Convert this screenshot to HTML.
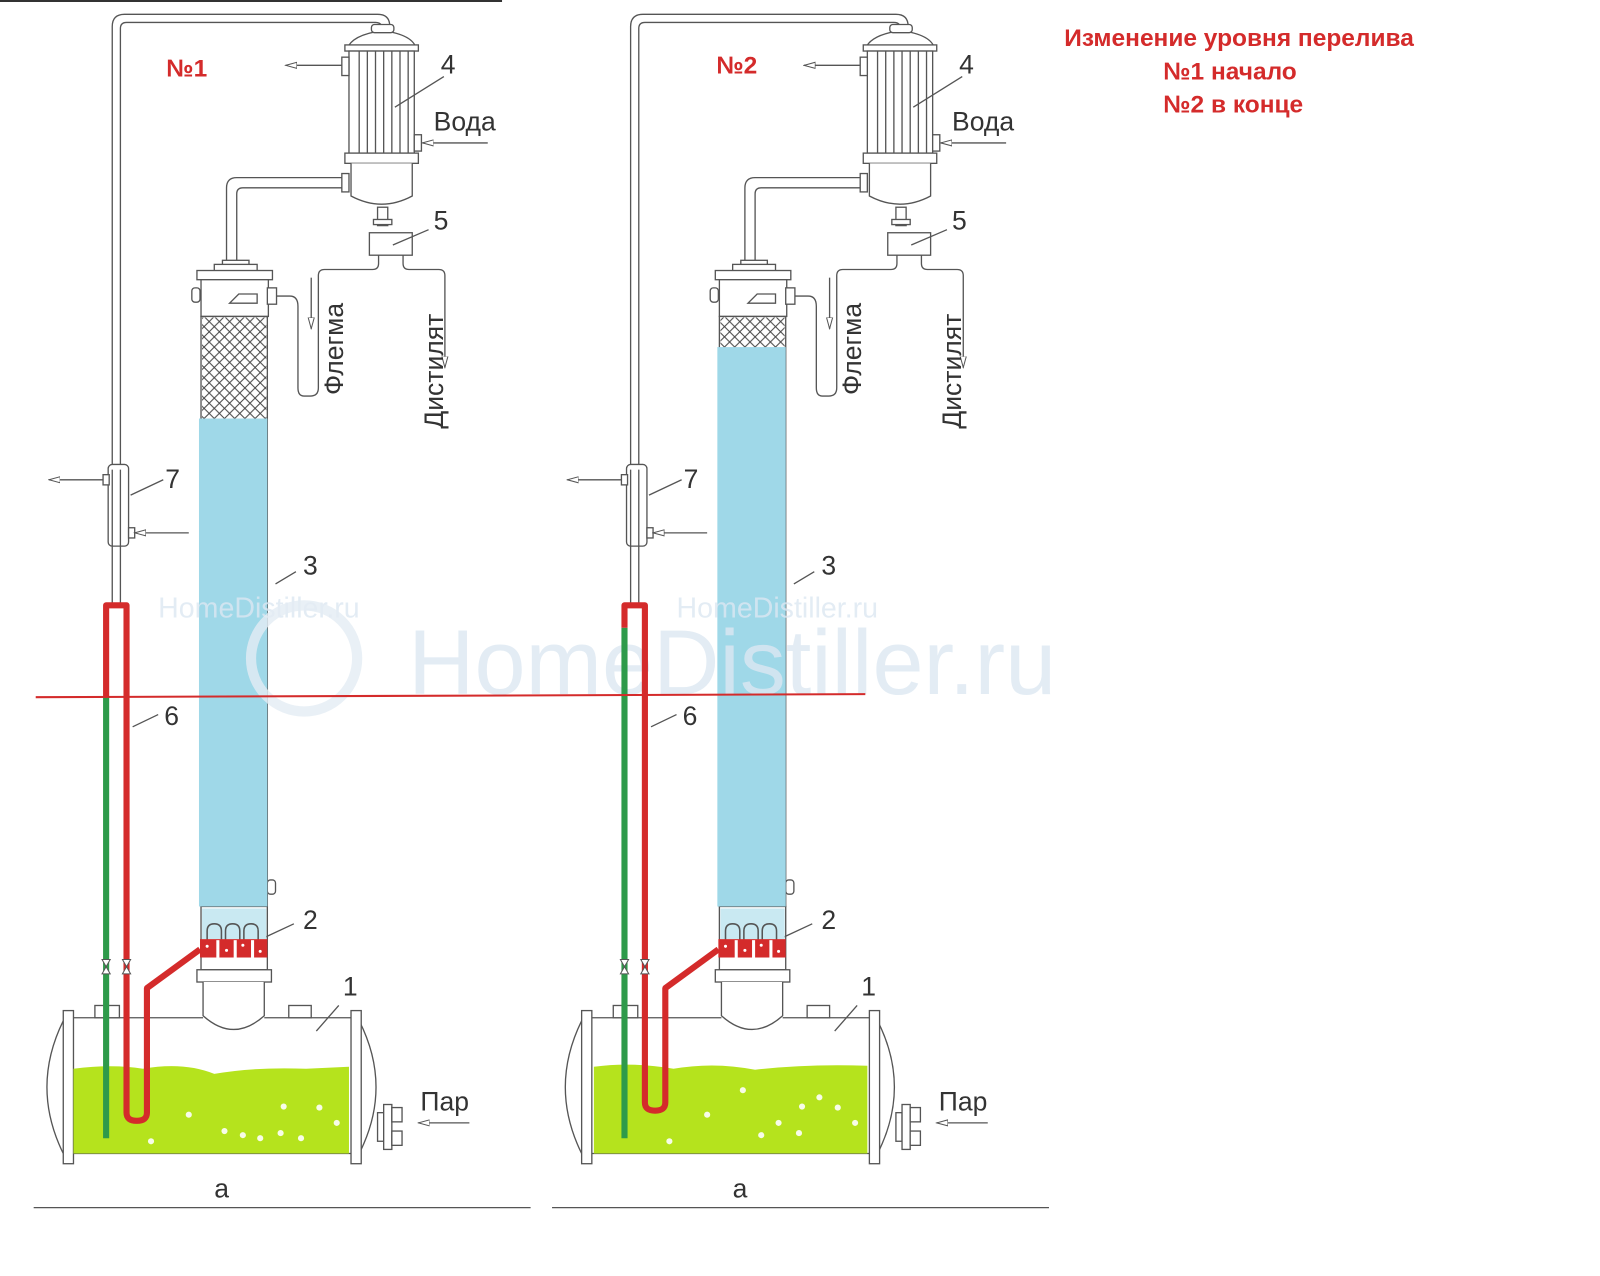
<!DOCTYPE html>
<html><head><meta charset="utf-8"><style>
html,body{margin:0;padding:0;background:#fff}
svg{display:block}
text{font-family:"Liberation Sans","DejaVu Sans",sans-serif}
</style></head><body>
<svg width="1600" height="1276" viewBox="0 0 1568 1250" preserveAspectRatio="none" xmlns="http://www.w3.org/2000/svg">
<defs>
<pattern id="hatch" width="10" height="10" patternUnits="userSpaceOnUse">
<path d="M0 0L10 10M10 0L0 10" stroke="#444" stroke-width="1"/>
</pattern>
<marker id="ar" markerWidth="12" markerHeight="8" refX="11" refY="4" orient="auto" markerUnits="userSpaceOnUse">
<path d="M0 1L11 4L0 7Z" fill="#fff" stroke="#555" stroke-width="1"/>
</marker>
<g id="base" fill="none" stroke="#555" stroke-width="1.3">
  <path d="M110 460V26Q110 14 122 14H370Q382 14 382 26V30"/>
  <path d="M118 460V28Q118 22 124 22H368Q375 22 375 30"/>
  <path d="M110 535V592M118 535V592"/>
  <path d="M340 48Q345 34 375 30Q405 34 408 48Z" fill="#fff"/>
  <rect x="364" y="24" width="22" height="8" rx="3" fill="#fff"/>
  <rect x="338" y="44" width="72" height="6" fill="#fff"/>
  <rect x="342" y="50" width="64" height="100" fill="#fff"/>
  <path d="M352 50V150M360 50V150M368 50V150M376 50V150M384 50V150M392 50V150M400 50V150"/>
  <rect x="338" y="150" width="72" height="10" fill="#fff"/>
  <path d="M344 160V192Q374 208 404 192V160" fill="#fff"/>
  <rect x="335" y="56" width="7" height="18" fill="#fff"/>
  <line x1="335" y1="64" x2="280" y2="64" marker-end="url(#ar)"/>
  <rect x="406" y="132" width="7" height="16" fill="#fff"/>
  <line x1="478" y1="140" x2="414" y2="140" marker-end="url(#ar)"/>
  <rect x="335" y="170" width="7" height="18" fill="#fff"/>
  <rect x="370" y="203" width="10" height="18" fill="#fff"/>
  <rect x="366" y="215" width="18" height="5" fill="#fff"/>
  <rect x="362" y="228" width="42" height="22" fill="#fff"/>
  <path d="M371 250V258Q371 264 365 264H318Q312 264 312 270V380Q312 388 304 388H298Q292 388 292 380V300Q292 290 284 290H270"/>
  <path d="M305 272V322" marker-end="url(#ar)"/>
  <path d="M395 250V258Q395 264 401 264H430Q436 264 436 270V360" marker-end="url(#ar)"/>
  <path d="M335 174H232Q222 174 222 184V255"/>
  <path d="M335 184H238Q232 184 232 190V255"/>
  <rect x="218" y="255" width="26" height="6" fill="#fff"/>
  <rect x="210" y="259" width="42" height="8" fill="#fff"/>
  <rect x="193" y="265" width="74" height="9" fill="#fff"/>
  <rect x="197" y="274" width="66" height="36" fill="#fff"/>
  <path d="M225 297L234 288H252V297Z" fill="#fff"/>
  <rect x="188" y="282" width="8" height="14" rx="3" fill="#fff"/>
  <rect x="262" y="282" width="9" height="16" fill="#fff"/>
  <rect x="197" y="310" width="65" height="578" fill="#fff"/>
  <rect x="262" y="862" width="8" height="14" rx="3" fill="#fff"/>
  <rect x="197" y="888" width="65" height="62" fill="#fff"/>
  <rect x="193" y="950" width="73" height="12" fill="#fff"/>
  <path d="M199 962V995Q229 1022 259 995V962" fill="#fff"/>
  <path d="M62 1000Q30 1065 62 1130"/>
  <path d="M352 1000Q385 1065 352 1130"/>
  <path d="M72 997H199M259 997H344M72 1130H344"/>
  <rect x="62" y="990" width="10" height="150" fill="#fff"/>
  <rect x="344" y="990" width="10" height="150" fill="#fff"/>
  <rect x="93" y="985" width="24" height="12" fill="#fff"/>
  <rect x="283" y="985" width="22" height="12" fill="#fff"/>
  <rect x="370" y="1090" width="6" height="28" fill="#fff"/>
  <rect x="376" y="1082" width="8" height="44" fill="#fff"/>
  <rect x="384" y="1085" width="10" height="14" fill="#fff"/>
  <rect x="384" y="1108" width="10" height="14" fill="#fff"/>
  <line x1="460" y1="1100" x2="410" y2="1100" marker-end="url(#ar)"/>
  <rect x="106" y="455" width="20" height="80" rx="4" fill="#fff"/>
  <path d="M110 460V535M118 460V535"/>
  <rect x="101" y="465" width="6" height="10" fill="#fff"/>
  <line x1="101" y1="470" x2="48" y2="470" marker-end="url(#ar)"/>
  <rect x="126" y="517" width="6" height="10" fill="#fff"/>
  <line x1="185" y1="522" x2="132" y2="522" marker-end="url(#ar)"/>
  <path d="M387 105L435 75M385 240L420 225M270 572L290 560M130 712L155 700M128 485L160 470M260 918L288 905M310 1010L332 985"/>
  <line x1="33" y1="1183" x2="520" y2="1183" stroke="#555"/>
</g>
</defs>

<line x1="0" y1="1" x2="492" y2="1" stroke="#333" stroke-width="2"/>

<use href="#base"/>
<rect x="198" y="311" width="63" height="99" fill="url(#hatch)"/>
<rect x="195" y="410" width="67" height="478" fill="#9fd8e8"/>
<use href="#base" transform="translate(508,0)"/>
<rect x="706" y="311" width="63" height="30" fill="url(#hatch)"/>
<rect x="703" y="340" width="67" height="548" fill="#9fd8e8"/>

<g id="sec">
<rect x="198" y="890" width="63" height="30" fill="#c9e9f2"/>
<g fill="none" stroke="#555" stroke-width="1.5">
<path d="M203 925V912Q203 905 210 905Q217 905 217 912V925M221 925V912Q221 905 228 905Q235 905 235 912V925M239 925V912Q239 905 246 905Q253 905 253 912V925"/>
</g>
<rect x="196" y="920" width="66" height="18" fill="#d42b2b"/>
<g fill="#fff"><rect x="212" y="921" width="3" height="17"/><rect x="229" y="921" width="3" height="17"/><rect x="246" y="921" width="3" height="17"/>
<circle cx="203" cy="927" r="1.5"/><circle cx="222" cy="931" r="1.5"/><circle cx="238" cy="926" r="1.5"/><circle cx="255" cy="932" r="1.5"/></g>
</g>
<use href="#sec" transform="translate(508,0)"/>

<path d="M72 1047Q110 1042 140 1047Q180 1040 210 1052Q250 1045 300 1047L342 1045V1130H72Z" fill="#b5e31d"/>
<path d="M582 1045Q620 1040 660 1047Q700 1040 740 1048Q790 1042 850 1044V1130H582Z" fill="#b5e31d"/>
<g fill="#fff" opacity="0.9">
<circle cx="185" cy="1092" r="3"/><circle cx="238" cy="1112" r="3"/><circle cx="255" cy="1115" r="3"/><circle cx="278" cy="1084" r="3"/><circle cx="275" cy="1110" r="3"/><circle cx="295" cy="1115" r="3"/><circle cx="313" cy="1085" r="3"/><circle cx="330" cy="1100" r="3"/><circle cx="148" cy="1118" r="3"/><circle cx="220" cy="1108" r="3"/>
<circle cx="693" cy="1092" r="3"/><circle cx="746" cy="1112" r="3"/><circle cx="763" cy="1100" r="3"/><circle cx="786" cy="1084" r="3"/><circle cx="783" cy="1110" r="3"/><circle cx="803" cy="1075" r="3"/><circle cx="821" cy="1085" r="3"/><circle cx="838" cy="1100" r="3"/><circle cx="656" cy="1118" r="3"/><circle cx="728" cy="1068" r="3"/>
</g>

<g fill="#dde8f2" opacity="0.8">
<text x="400" y="680" font-size="90">HomeDistiller.ru</text>
<text x="155" y="605" font-size="28">HomeDistiller.ru</text>
<text x="663" y="605" font-size="28">HomeDistiller.ru</text>
</g>
<circle cx="298" cy="645" r="52" fill="none" stroke="#e3ecf4" stroke-width="10" opacity="0.8"/>

<g fill="none" stroke-linejoin="round">
<path d="M104 1115V683" stroke="#2e9a4a" stroke-width="6"/>
<path d="M104 683V593H124V1090Q124 1098 134 1098Q144 1098 144 1090V968L196 930" stroke="#d42b2b" stroke-width="6"/>
<path d="M612 1115V615" stroke="#2e9a4a" stroke-width="6"/>
<path d="M612 615V593H632V1080Q632 1088 642 1088Q652 1088 652 1080V968L704 930" stroke="#d42b2b" stroke-width="6"/>
</g>
<g fill="#fff" stroke="#555" stroke-width="1">
<path d="M100 940L108 940L100 954L108 954Z"/><path d="M120 940L128 940L120 954L128 954Z"/>
<path d="M608 940L616 940L608 954L616 954Z"/><path d="M628 940L636 940L628 954L636 954Z"/>
</g>

<line x1="35" y1="683" x2="848" y2="680" stroke="#d42b2b" stroke-width="2"/>

<g fill="#333" font-family="DejaVu Sans, sans-serif" font-size="26">
<text x="432" y="72">4</text><text x="425" y="225">5</text><text x="297" y="563">3</text><text x="162" y="478">7</text><text x="161" y="710">6</text><text x="297" y="910">2</text><text x="336" y="975">1</text>
<text x="940" y="72">4</text><text x="933" y="225">5</text><text x="805" y="563">3</text><text x="670" y="478">7</text><text x="669" y="710">6</text><text x="805" y="910">2</text><text x="844" y="975">1</text>
<text x="425" y="128">Вода</text><text x="933" y="128">Вода</text>
<text x="412" y="1088">Пар</text><text x="920" y="1088">Пар</text>
<text x="210" y="1173">a</text><text x="718" y="1173">a</text>
<text transform="translate(336,387) rotate(-90)">Флегма</text>
<text transform="translate(844,387) rotate(-90)">Флегма</text>
<text transform="translate(434,420) rotate(-90)">Дистилят</text>
<text transform="translate(942,420) rotate(-90)">Дистилят</text>
</g>
<g fill="#d42b2b" font-weight="bold" font-size="24">
<text x="163" y="75">№1</text><text x="702" y="72">№2</text>
<text x="1043" y="45">Изменение уровня перелива</text>
<text x="1140" y="78">№1 начало</text>
<text x="1140" y="110">№2  в конце</text>
</g>
</svg>
</body></html>
